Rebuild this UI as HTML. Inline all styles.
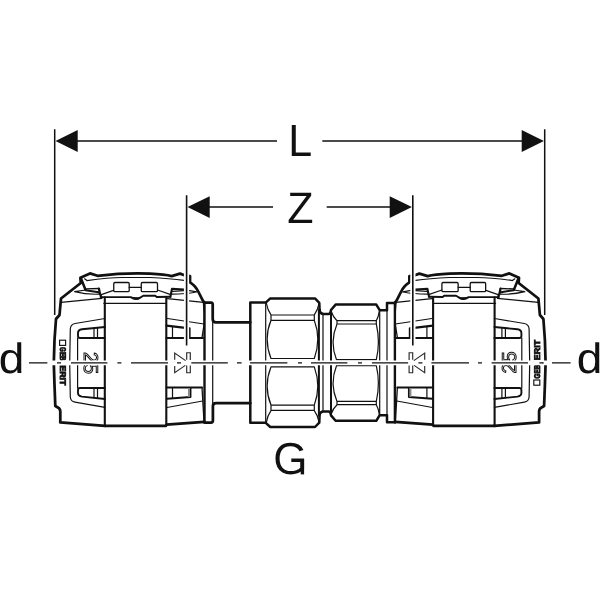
<!DOCTYPE html>
<html><head><meta charset="utf-8"><title>Fitting dimension drawing</title>
<style>
html,body{margin:0;padding:0;background:#fff;}
body{width:600px;height:600px;overflow:hidden;font-family:"Liberation Sans",sans-serif;}
svg{display:block;filter:grayscale(1)}
.k{stroke:#111;fill:none;stroke-linejoin:round;stroke-linecap:round}
.t{stroke-width:2.75}
.m{stroke-width:1.9}
.n{stroke-width:1.2}
text{font-family:"Liberation Sans",sans-serif;fill:#111;text-rendering:geometricPrecision}
</style></head><body>
<svg width="600" height="600" viewBox="0 0 600 600">
<rect width="600" height="600" fill="#fff"/>
<defs>
<!-- ============ one push-fit socket (drawn as the LEFT one) ============ -->
<g id="sock" class="k">
  <!-- outer outline -->
  <path class="t" d="M105,425.8 L60.3,422.4 L60.3,411.5 Q60.2,408.6 58.3,407.7 L55.3,406 L54.5,385 L53.8,363 L54.5,340 L56,319 L59.5,315 L61,298.5 L80.8,283 L80.4,277.8 L90,273.4 L97.5,275.8 Q125,272.7 150,273.7 Q165,274.4 171.7,276.1 L180,273.6 L184.5,275.3 L190,276 L190,282.3 Q193,284.3 194.6,286.2 Q197,289 198.5,292 L202.7,300.3 L204.2,302.5"/>
  <!-- band bottom / right bottom -->
  <path class="t" d="M105,425.8 L166,425.8 M166.5,424.6 L204.3,421.8"/>
  <!-- band verticals -->
  <path class="m" style="stroke-width:2.1" d="M104.8,297.2 L104.8,425.8 M166.3,297.2 L166.3,425"/>
  <!-- band top -->
  <path class="m" d="M100.5,297.1 L130.8,297.1 Q135.8,300.6 140.2,297.6 L143.3,295.8 L155,295.6 L156.7,297 L170.4,296.8"/>
  <path d="M130.6,297.1 Q135.8,302.4 141,297.2 Z" fill="#111" stroke="none"/>
  <path class="n" d="M103.8,303.3 L165.8,303.3"/>
  <!-- clip left -->
  <path class="t" style="stroke-width:2.5" d="M80.9,278.3 L85.5,289.8"/>
  <path class="t" style="stroke-width:2" d="M85.6,290.2 L98.6,292.2"/>
  <path class="t" style="stroke-width:2.3" d="M98.9,288.6 L99.9,293.5 L101.3,297.1"/>
  <path class="m" style="stroke-width:1.3" d="M86,288.9 L98.9,288.5"/>
  <!-- clip right -->
  <path class="t" style="stroke-width:2.1" d="M170.4,296.8 L172,288.8 L184,289.5"/>
  <path class="n" d="M172.6,291.4 L184,290.7"/>
  <path class="n" d="M184,289.6 L196.7,291.8 M172,294.2 Q186,294 196.3,292"/>
  <!-- thin top details -->
  <path class="n" d="M84.6,278.8 L87,280.6 Q110,277.2 125,277.5 L150,277.5 Q170,278.4 184,280.4"/>
  <path class="n" d="M74.6,291.7 Q86,294.6 98.8,294.2 M74.6,291.7 L85.8,290"/>
  <path class="n" d="M61,302.3 L102,298.3"/>
  <path class="n" d="M101.3,294.6 L113.5,290.4 M129.2,287.3 L141.3,287.3 M157.5,290 L170.8,294.6"/>
  <rect style="stroke-width:1.3" class="n" x="113.75" y="282.5" width="15.45" height="9.2" rx="1.2"/>
  <rect style="stroke-width:1.3" class="n" x="141.25" y="282.5" width="16.25" height="9.2" rx="1.2"/>
  <path class="n" d="M167.5,298.6 L203.5,302.4"/>
  <!-- right part of body -->
  <path style="stroke-width:1.3" class="n" d="M203.4,303 Q204.9,315 204,325 L202,337.5"/>
  <path class="n" d="M167.5,318.5 L204,324"/>
  <path style="stroke-width:2.2" class="t" d="M166.5,325.6 L189.5,328.3 L189.5,337.6"/>
  <path style="stroke-width:2.2" class="t" d="M166.5,338 L203,338"/>
  <path class="n" d="M172.5,326.5 L172.5,338"/>
  <!-- lower right part -->
  <path style="stroke-width:2" class="t" d="M166.5,387.5 L202,387.5"/>
  <path class="m" d="M167,398.7 L190.5,397 L190.5,388"/>
  <rect x="188" y="388" width="2" height="9" fill="#888" stroke="none"/>
  <path class="n" d="M172.5,388 L172.5,398.3"/>
  <path class="n" d="M167,407.5 L202.6,401"/>
  <path style="stroke-width:1.3" class="n" d="M202,387.5 L204,421.5"/>
  <!-- flange inner vertical -->
  <path style="stroke-width:2.4" class="t" d="M204.5,302.5 L204.5,422.4"/>
  <!-- window -->
  <path style="stroke-width:1.2" class="n" d="M105,318.5 L75,323.5 Q70.6,324.4 70.3,329 L69.7,363 L70.3,397 Q70.6,401.4 75,402.2 L105,407.3"/>
  <path class="m" d="M105,327 L82,329.3 Q78,329.8 78,333 L78,336 Q78,338 80,338 L105,338"/>
  <path class="m" d="M105,388 L80,388 Q78,388 78,390 L78,393 Q78,396 82,396.6 L105,399"/>
  <path class="n" d="M94,328.2 L94,338 M97.5,327.8 L97.5,338 M94,388 L94,397.8 M97.5,388 L97.5,398.2 M77.6,338 L77.6,388"/>
</g>
</defs>

<!-- pipe between left socket and nut + left flange right part -->
<g class="k">
  <path class="t" d="M204.2,302.5 L211,302.5 Q212.7,302.5 212.7,304.5 L212.7,319 Q212.7,322.3 216,322.3 L250.3,322.3"/>
  <path class="t" d="M204.5,422.6 L211,422.6 Q212.9,422.6 212.9,420.5 L212.9,406.2 Q212.9,403.2 216,403.2 L250.3,403.2"/>
  <path class="n" d="M212.7,320 L212.7,405"/>
</g>

<use href="#sock"/>
<use href="#sock" transform="translate(599.4 0) scale(-1 1)"/>

<!-- ============ central union nut ============ -->
<g id="nutTop" class="k">
  <path style="stroke-width:2.5" class="t" d="M250.3,362.7 L250.3,302.6 L265.7,302.6 L270.3,298.4 L315,298.4 L319.3,302.8 L319.6,310 Q320,313.9 323.5,313.9 L328.6,313.9 Q330.6,313.9 331,310 L335.6,304.6 L376.3,304.6 L379.7,310.2 L387,310.2 L387,303.1 L395,303.1"/>
  <path class="n" d="M265.7,302.6 L265.7,362.7 M323,313.9 L323,362.7 M379.7,310.2 L379.7,362.7 M387,310.2 L387,362.7"/>
  <path style="stroke-width:2" class="t" d="M318.9,310 L318.9,362.7 M331,310 L331,362.7"/>
  <!-- big hex -->
  <path class="n" d="M266.3,303 Q267.5,310 271,314.8 M319,303.5 Q317.8,310 314.3,314.8 M271,315 L314.3,315 M271,320.3 L314.3,320.3 M271,320.3 Q263.3,339 271,358.5 M314.3,320.3 Q321.3,339 314.3,358.5 M271,358.5 L314.3,358.5 M271,314.8 L271,320.3 M314.3,314.8 L314.3,320.3"/>
  <!-- small hex -->
  <path class="n" d="M331.3,311.5 Q333,317 337,320.7 M379.3,311 Q378.5,317 376.3,320.7 M337,320.7 L376.3,320.7 M337,324 L376.3,324 M337,324 Q329.4,342 336.5,359.7 M376.3,324 Q380.5,342 376.3,359.7 M336.5,359.7 L376.3,359.7 M337,320.7 L337,324 M376.3,320.7 L376.3,324"/>
</g>
<use href="#nutTop" transform="translate(0 725.4) scale(1 -1)"/>

<!-- ============ Z extension lines with halo ============ -->
<g>
  <path d="M186.5,268 L186.5,348 M412.9,268 L412.9,348" stroke="#fff" stroke-width="5.2" fill="none"/>
  <path d="M186.6,195.3 L186.6,345.5 M412.8,195.3 L412.8,345.5" stroke="#111" stroke-width="1.6" fill="none"/>
</g>

<!-- ============ axis ============ -->
<path d="M27,362.9 L573,362.9" stroke="#fff" stroke-width="4.8" fill="none"/>
<path stroke="#111" stroke-width="1.4" fill="none" d="M29,362.9H47.4 M57,362.9H61 M71,362.9H107.4 M117.4,362.9H121.4 M131,362.9H168 M177,362.9H181 M191.3,362.9H227.8 M237,362.9H241.6 M250,362.9H287.4 M298,362.9H302 M311,362.9H347.4 M358,362.9H362 M372,362.9H408.1 M418.4,362.9H422.4 M431.4,362.9H469 M478,362.9H482 M491.6,362.9H528 M539.4,362.9H543.4 M552,362.9H570.6"/>

<!-- K (z-point) symbols -->
<g id="ksym" stroke="#2a2a2a" stroke-width="1.15" fill="none">
  <path d="M186.7,359.8 L186.7,352.7 L190.3,352.7 L190.3,360 M186.7,365.4 L186.7,372.7 L190.3,372.7 L190.3,365.6"/>
  <path d="M174.7,359.8 L174.7,353 L185.6,360.6 M174.7,366 L174.7,372.7 L185.3,365.4"/>
</g>
<use href="#ksym" transform="translate(599.4 0) scale(-1 1)"/>

<!-- ============ small labels on sockets ============ -->
<rect x="59.6" y="340.2" width="6" height="5.2" fill="#fff" stroke="#111" stroke-width="1.15"/>
<rect x="533.8" y="380" width="6" height="5.2" fill="#fff" stroke="#111" stroke-width="1.15"/>
<g font-weight="bold" font-size="8.3" stroke="#111" stroke-width="0.85">
  <text transform="translate(59.7 347) rotate(90)" textLength="13.6" lengthAdjust="spacingAndGlyphs">GEB</text>
  <text transform="translate(59.7 365.2) rotate(90)" textLength="20.3" lengthAdjust="spacingAndGlyphs">ERIT</text>
  <text transform="translate(539.7 378.4) rotate(-90)" textLength="13.6" lengthAdjust="spacingAndGlyphs">GEB</text>
  <text transform="translate(539.7 360.2) rotate(-90)" textLength="20.3" lengthAdjust="spacingAndGlyphs">ERIT</text>
</g>
<rect x="57" y="360.5" width="11" height="4.7" fill="#fff"/>
<rect x="531.4" y="360.5" width="11" height="4.7" fill="#fff"/>
<path stroke="#111" stroke-width="1.4" d="M57,362.9H61 M539.4,362.9H543.4"/>
<g font-size="20" fill="#fff" stroke="#111" stroke-width="1">
  <text transform="translate(83.5 351.9) rotate(90)" style="fill:#fff">25</text>
  <text transform="translate(515.9 373.5) rotate(-90)" style="fill:#fff">25</text>
</g>
<!-- re-draw axis halo over digits -->
<path d="M80,362.9H100 M499,362.9H519" stroke="#fff" stroke-width="4.8"/>
<path d="M80,362.9H100 M499,362.9H519" stroke="#111" stroke-width="1.4"/>

<!-- ============ dimension lines ============ -->
<g stroke="#111" stroke-width="1.5" fill="none">
  <path d="M54.7,129.3 L54.7,315 M544.7,129.3 L544.7,315"/>
  <path d="M77,141 H277 M322.3,141 H522"/>
  <path d="M209,207 H273 M326.7,207 H390"/>
</g>
<g fill="#111">
  <path d="M55.5,141 L77.7,130 L77.7,152 Z M543.9,141 L521.7,130 L521.7,152 Z"/>
  <path d="M187.5,207 L209.7,196.2 L209.7,218 Z M411.9,207 L389.7,196.2 L389.7,218 Z"/>
</g>

<g font-size="43">
  <text transform="translate(288.3 155.7) scale(1.0 1.045)">L</text>
  <text transform="translate(287.3 222.6) scale(1.0 1.025)">Z</text>
  <text transform="translate(-1.2 372.9) scale(1.07 0.99)">d</text>
  <text transform="translate(576.7 372.9) scale(1.07 0.99)">d</text>
  <text transform="translate(273.2 474.2) scale(1.02 1.04)">G</text>
  <rect x="300.7" y="459" width="3.4" height="15.4" fill="#111"/>
</g>
</svg>
</body></html>
